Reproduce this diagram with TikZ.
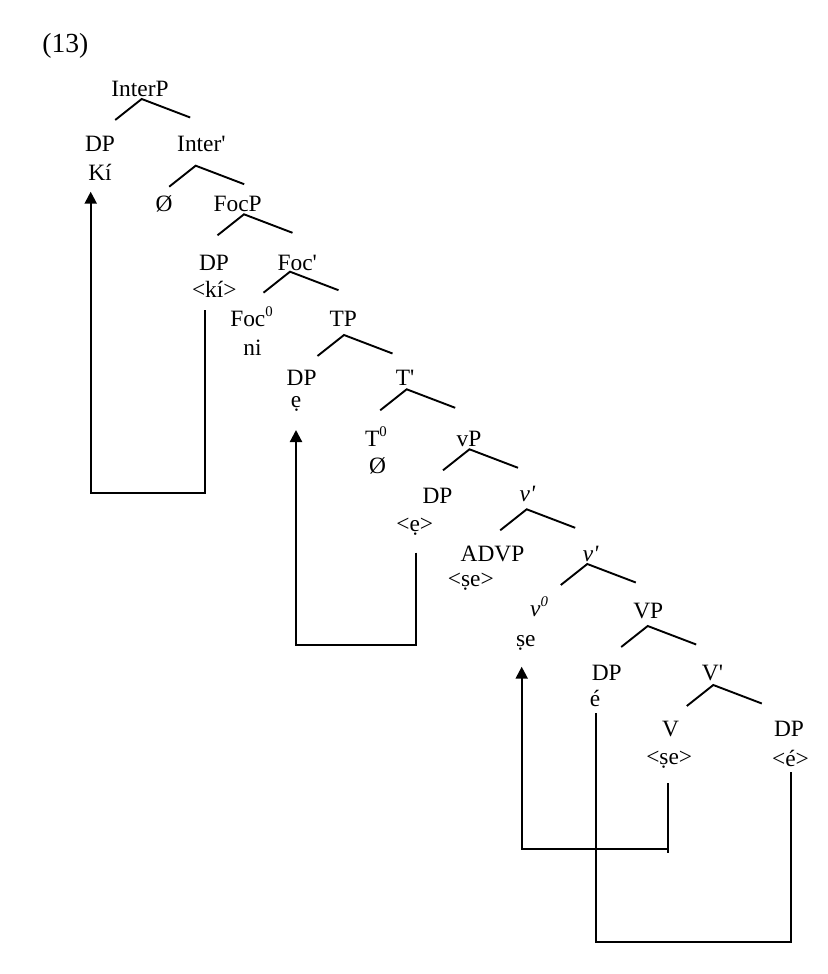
\documentclass[tikz,border=0pt]{standalone}
\usepackage{fontspec}
\setmainfont{Liberation Serif}[Ligatures=TeXOff]
\usetikzlibrary{arrows.meta,calc}
\newcommand{\supz}{\raisebox{0.42em}{\fontsize{7.4}{8}\selectfont 0}}
\begin{document}
\begin{tikzpicture}[x=0.5pt,y=-0.5pt,
  lbl/.style={inner sep=0pt,anchor=base,font=\fontsize{11.7}{13}\selectfont},
  br/.style={line width=0.95pt},
  mv/.style={line width=1.1pt},
  mvarrow/.style={mv,-{Triangle[length=6pt,width=6pt]}},
  lam/.pic={\draw[br] (-26.5,21) -- (0,0) -- (48.5,18.5);}]
\useasboundingbox (0,0) rectangle (827,974);
\node[inner sep=0pt,anchor=base west,font=\fontsize{13.8}{15}\selectfont] (ex) at (42,53) {(13)};
% labels
\node[lbl] (interp) at (140,96.7) {InterP};
\node[lbl] (dp1) at (100,151.7) {DP};
\node[lbl] (ki) at (100,180) {Kí};
\node[lbl] (interb) at (201.4,151.7) {Inter'};
\node[lbl] (nul1) at (164,211.7) {Ø};
\node[lbl] (focp) at (237.6,211.7) {FocP};
\node[lbl] (dp2) at (214,270) {DP};
\node[lbl] (kit) at (214.3,297.5) {<kí>};
\node[lbl] (focb) at (297.3,270) {Foc'};
\node[lbl] (foc0) at (251.5,326.7) {Foc\supz};
\node[lbl] (ni) at (252.5,355) {ni};
\node[lbl] (tp) at (343.3,326.7) {TP};
\node[lbl] (dp3) at (301.7,385) {DP};
\node[lbl] (e1) at (296,407) {ẹ};
\node[lbl] (tb) at (405,385) {T'};
\node[lbl] (t0) at (376,446.7) {T\supz};
\node[lbl] (nul2) at (377.5,473.3) {Ø};
\node[lbl] (vp) at (469,446.7) {vP};
\node[lbl] (dp4) at (437.5,503.3) {DP};
\node[lbl] (et) at (414.7,531) {<ẹ>};
\node[lbl] (vb1) at (527.5,501.7) {\textit{v'}};
\node[lbl] (advp) at (492.5,561.7) {ADVP};
\node[lbl] (set1) at (470.8,586) {<ṣe>};
\node[lbl] (vb2) at (590.8,561.7) {\textit{v'}};
\node[lbl] (v0) at (539,616.7) {\textit{v\supz}};
\node[lbl] (se) at (525.8,646) {ṣe};
\node[lbl] (bvp) at (648.3,618) {VP};
\node[lbl] (dp5) at (606.7,680) {DP};
\node[lbl] (e2) at (595,706.7) {é};
\node[lbl] (bvb) at (712.5,680) {V'};
\node[lbl] (bv) at (670.5,736.7) {V};
\node[lbl] (set2) at (669.2,764) {<ṣe>};
\node[lbl] (dp6) at (789,736.7) {DP};
\node[lbl] (e2t) at (790.5,766) {<é>};
% branches
\pic at ([shift={(1.7,2.3)}]interp.base) {lam};
\pic at ([shift={(-5.7,14)}]interb.base) {lam};
\pic at ([shift={(6.4,2.6)}]focp.base) {lam};
\pic at ([shift={(-7.3,1.7)}]focb.base) {lam};
\pic at ([shift={(0.7,8.3)}]tp.base) {lam};
\pic at ([shift={(1.7,4.3)}]tb.base) {lam};
\pic at ([shift={(0.5,2.6)}]vp.base) {lam};
\pic at ([shift={(-0.8,7.6)}]vb1.base) {lam};
\pic at ([shift={(-3.5,2.3)}]vb2.base) {lam};
\pic at ([shift={(-0.6,8)}]bvp.base) {lam};
\pic at ([shift={(0.8,5)}]bvb.base) {lam};
% movement end points
\coordinate (m1s) at ([shift={(-9.3,12.5)}]kit.base);
\coordinate (m1e) at ([shift={(-9.3,11.7)}]ki.base);
\coordinate (m2s) at ([shift={(1,21.7)}]et.base);
\coordinate (m2e) at ([shift={(0,23)}]e1.base);
\coordinate (m3s) at ([shift={(-0.9,19.3)}]set2.base);
\coordinate (m3e) at ([shift={(-4.1,20.7)}]se.base);
\coordinate (m4s) at ([shift={(0.7,6.6)}]e2.base);
\coordinate (m4e) at ([shift={(0.2,5.7)}]e2t.base);
\coordinate (b1) at (0,493.3);
\coordinate (b2) at (0,645);
\coordinate (b3) at (0,849.3);
\coordinate (b3e) at (0,853);
\coordinate (b4) at (0,941.7);
\draw[mvarrow] (m1s) -- (b1 -| m1s) -| (m1e);
\draw[mvarrow] (m2s) -- (b2 -| m2s) -| (m2e);
\draw[mv] (m3s) -- (b3e -| m3s);
\draw[mvarrow] ([xshift=-0.8pt]b3 -| m3s) -| (m3e);
\draw[mv] (m4s) -- (b4 -| m4s) -| (m4e);
\end{tikzpicture}
\end{document}
